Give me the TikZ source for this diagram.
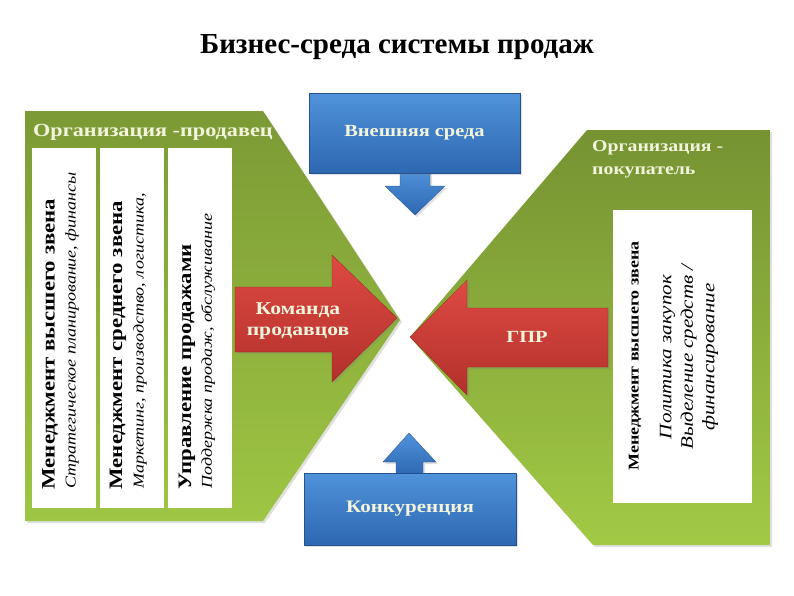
\documentclass[tikz,border=0pt]{standalone}
\usepackage{fontspec}
\setmainfont{Liberation Serif}
\newfontfamily\widefont[FakeStretch=1.2]{Liberation Serif}
\usetikzlibrary{shadows}

\definecolor{oliveDark}{HTML}{7C9A35}
\definecolor{oliveLight}{HTML}{A2CA45}
\definecolor{blueTop}{HTML}{4F93DB}
\definecolor{blueBot}{HTML}{2E67B1}
\definecolor{redTop}{HTML}{DE4A43}
\definecolor{redBot}{HTML}{B3302B}
\definecolor{cream}{HTML}{F3F4DC}

\begin{document}
\begin{tikzpicture}[x=1pt,y=-1pt,
  softshadow/.style={drop shadow={opacity=0.25,shadow xshift=2pt,shadow yshift=-2pt}},
  panelL/.style={top color=oliveDark,bottom color=oliveLight!90!oliveDark,softshadow},
  panelR/.style={top color=oliveDark!95!black,bottom color=oliveLight,softshadow},
  column/.style={fill=white,minimum width=64,inner sep=0pt},
  bluebox/.style={top color=blueTop,bottom color=blueBot,draw=blueBot!80!black,
                  line width=0.3pt,softshadow,inner sep=0pt},
  bluearrow/.style={top color=blueTop,bottom color=blueBot,draw=blueBot!80!black,
                  line width=0.3pt,softshadow},
  redarrow/.style={top color=redTop,bottom color=redBot,draw=redBot!80!black,
                  line width=0.3pt,softshadow},
  lighttext/.style={text=cream,font=\widefont\bfseries#1},
  lighttext/.default=\fontsize{17}{21}\selectfont,
  colhead/.style={rotate=90,anchor=west,font=\widefont\fontsize{19}{22}\selectfont\bfseries},
  colsub/.style={rotate=90,anchor=west,font=\widefont\fontsize{15}{18}\selectfont\itshape}]
\useasboundingbox (0,0) rectangle (794,595);

% title
\node[font=\fontsize{29}{34}\selectfont\bfseries] (title) at (397,47) {Бизнес-среда системы продаж};

% green panels
\path[panelL] (25,111) -- (263,111) -- (400,320) -- (263,521) -- (25,521) -- cycle;
\path[panelR] (587,130) -- (770,130) -- (770,545) -- (593,545) -- (410,337) -- cycle;
\node[lighttext=\fontsize{18.5}{22}\selectfont,anchor=west,inner sep=0pt] (seller) at (33,132)
  {Организация -продавец};
\node[lighttext=\fontsize{16.5}{23.5}\selectfont,anchor=north west,align=left,inner sep=0pt] (buyer)
  at (592,140) {Организация -\\покупатель};

% seller columns
\node[column,minimum height=360] (top)  at (64,328)  {};
\node[column,minimum height=360] (mid)  at (132,328) {};
\node[column,minimum height=360] (sale) at (200,328) {};
\node[colhead] (topH)  at (50,493)  {Менеджмент высшего звена};
\node[colsub]  (topS)  at (72,492)  {Стратегическое планирование, финансы};
\node[colhead] (midH)  at (118,493) {Менеджмент среднего звена};
\node[colsub]  (midS)  at (140,492) {Маркетинг, производство, логистика,};
\node[colhead] (saleH) at (187,493) {Управление продажами};
\node[colsub]  (saleS) at (208,492) {Поддержка продаж, обслуживание};

% buyer column
\node[column,minimum width=139,minimum height=293] (buyTop) at (682,356) {};
\node[rotate=90,font=\widefont\fontsize{15}{18}\selectfont\bfseries] (buyH) at (635,356)
  {Менеджмент высшего звена};
\node[rotate=90,align=center,font=\widefont\fontsize{17.5}{21.5}\selectfont\itshape] (buyS)
  at (689,357) {Политика закупок\\Выделение средств /\\финансирование};

% red arrows
\path[redarrow] (235,287) -- (332,287) -- (332,255) -- (397,318) -- (332,382)
  -- (332,352) -- (235,352) -- cycle;
\path[redarrow] (608,308) -- (467,308) -- (467,280) -- (410,337) -- (467,395)
  -- (467,367) -- (608,367) -- cycle;
\node[lighttext=\fontsize{18}{21}\selectfont,align=center] (team) at (298,321) {Команда\\продавцов};
\node[lighttext=\fontsize{17}{22}\selectfont] (dmu) at (527,337) {ГПР};

% blue boxes
\path[bluearrow] (400,170) -- (400,186) -- (385,186) -- (415,215) -- (445,186)
  -- (430,186) -- (430,170) -- cycle;
\node[bluebox,minimum width=211,minimum height=80] (ext) at (414.5,133) {};
\node[lighttext] at (ext) {Внешняя среда};
\path[bluearrow] (396,476) -- (396,462) -- (383,462) -- (409,433) -- (436,462)
  -- (423,462) -- (423,476) -- cycle;
\node[bluebox,minimum width=212,minimum height=72] (comp) at (410,509) {};
\node[lighttext=\fontsize{17.5}{21}\selectfont] at (comp) {Конкуренция};
\end{tikzpicture}
\end{document}
